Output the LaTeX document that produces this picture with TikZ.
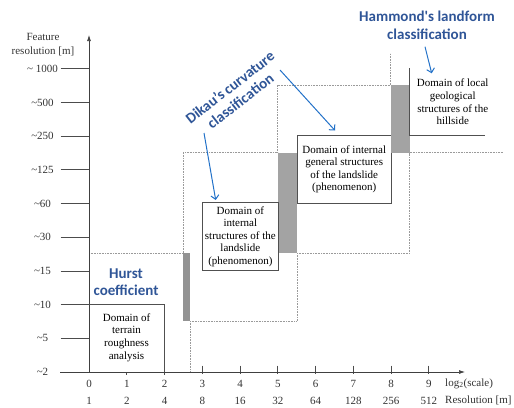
\documentclass[tikz,border=0pt]{standalone}
\usepackage{fontspec}
\setmainfont{Liberation Serif}
\newfontfamily\serifrm{Liberation Serif}
\newfontfamily\lblfont{Carlito}
\usetikzlibrary{arrows.meta}
\definecolor{lblblue}{HTML}{2F5597}
\definecolor{arrblue}{HTML}{2271C8}
\definecolor{boxgray}{HTML}{505050}
\definecolor{dotgray}{HTML}{9A9A9A}
\definecolor{barfill}{HTML}{A3A3A3}
\begin{document}
\begin{tikzpicture}[x=1pt,y=-1pt,
  axis/.style={line width=0.7pt, draw=black!75, -{Latex[length=6pt,width=4pt]}},
  tickline/.style={line width=0.7pt, draw=black!70},
  dotline/.style={densely dotted, draw=dotgray, line width=0.6pt},
  bar/.style={fill=barfill, draw=none},
  boxline/.style={draw=boxgray, line width=0.7pt},
  domainbox/.style={draw=boxgray, line width=0.7pt, fill=white, align=center, font=\serifrm\fontsize{11}{12.5}\selectfont, inner sep=0pt, anchor=north west},
  domaintext/.style={align=center, font=\serifrm\fontsize{11}{12.6}\selectfont, inner sep=0pt},
  ylab/.style={font=\serifrm\fontsize{11}{12}\selectfont, text=black!80, inner sep=0pt},
  xlab/.style={font=\serifrm\fontsize{11}{12}\selectfont, text=black!80, inner sep=0pt},
  bluelabel/.style={text=lblblue, font=\lblfont\bfseries\fontsize{15}{17}\selectfont, align=center, inner sep=0pt},
  pointer/.style={draw=arrblue, line width=1pt, -{Straight Barb[length=4pt,width=8pt]}}
]
\useasboundingbox (0,0) rectangle (514,407);

% gray overlap bars
\fill[bar, fill=barfill!90!black] (183,253) rectangle (190,321);
\fill[bar] (277.7,152.5) rectangle (297,253);
\fill[bar] (390.5,85) rectangle (409.5,152.5);

% dotted domain bounds
\draw[dotline] (89,253) -- (183,253);
\draw[dotline] (190,321) -- (190,372);
\draw[dotline] (183,253) -- (183,152.5) -- (277.7,152.5);
\draw[dotline] (190,321) -- (297,321) -- (297,253);
\draw[dotline] (277.7,152.5) -- (277.7,85) -- (390.5,85);
\draw[dotline] (297,253) -- (409.5,253) -- (409.5,152.5);
\draw[dotline] (390.5,85) -- (390.5,53);
\draw[dotline] (409.5,152.5) -- (503,152.5);

% y ticks and labels
\foreach \k/\t in {1/{\textasciitilde5},2/{\textasciitilde10},3/{\textasciitilde15},4/{\textasciitilde30},5/{\textasciitilde60},6/{\textasciitilde125},7/{\textasciitilde250},8/{\textasciitilde500},9/{\textasciitilde\ 1000}}{
  \draw[tickline] (60.5,{372-33.7*\k}) -- (89,{372-33.7*\k});
  \node[ylab] (yl\k) at (42.5,{372-33.7*\k}) {\t};
}
\node[ylab] (yl0) at (42.5,372) {\textasciitilde2};
\node[ylab, align=center, font=\serifrm\fontsize{11}{13.5}\selectfont] (ytitle) at (43,44.5) {Feature\\resolution [m]};

% x ticks and labels
\foreach \k/\r in {0/1,1/2,2/4,3/8,4/16,5/32,6/64,7/128,8/256,9/512}{
  \node[xlab] (xn\k) at ({89+37.75*\k},383.5) {\k};
  \node[xlab] (xr\k) at ({89+37.75*\k},400.5) {\r};
}
\foreach \k in {1,2}{\draw[tickline] ({89+37.75*\k},372) -- ({89+37.75*\k},375);}
\foreach \k in {3,...,9}{\draw[tickline] ({89+37.75*\k},365.7) -- ({89+37.75*\k},374);}
\node[xlab, anchor=west] (xtitle1) at (445,383.5) {log\textsubscript{2}(scale)};
\node[xlab, anchor=west] (xtitle2) at (445,400.5) {Resolution [m]};

% axes
\draw[axis] (60,372) -- (465,372);
\draw[axis] (89,372) -- (89,35);

% domain 1 (terrain roughness)
\draw[boxline] (89,304) -- (164,304) -- (164,372);
\node[domaintext] (d1) at (126.5,337.5) {Domain of\\terrain\\roughness\\analysis};

% domain 2
\node[domainbox, minimum width=76.6pt, minimum height=67.7pt] (d2) at (201.7,202.3) {Domain of\\internal\\structures of the\\landslide\\(phenomenon)};

% domain 3
\node[domainbox, minimum width=93.7pt, minimum height=68pt] (d3) at (297,135) {Domain of internal\\general structures\\of the landslide\\(phenomenon)};
\fill[bar] (390.5,135.4) rectangle (409.5,152.5);

% domain 4
\draw[boxline] (409.3,68) -- (409.3,135) -- (485,135);
\node[domaintext] (d4) at (452.7,102) {Domain of local\\geological\\structures of the\\hillside};

% blue labels
\node[bluelabel] (hurst) at (126,282.5) {Hurst\\coefficient};
\node[bluelabel, font=\lblfont\bfseries\fontsize{15}{17.6}\selectfont] (hammond) at (427,25.5) {Hammond's landform\\classification};
\node[bluelabel, rotate=38] (dikau) at (235,94) {Dikau’s curvature\\classification};

% pointers
\coordinate (ha) at (425,46.7);
\coordinate (hb) at (431.7,73.3);
\coordinate (da) at (204,133);
\coordinate (db) at (215.7,200);
\coordinate (dc) at (280,70);
\coordinate (dd) at (335,130.5);
\draw[pointer] (ha) -- (hb);
\draw[pointer] (da) -- (db);
\draw[pointer] (dc) -- (dd);
\end{tikzpicture}
\end{document}
